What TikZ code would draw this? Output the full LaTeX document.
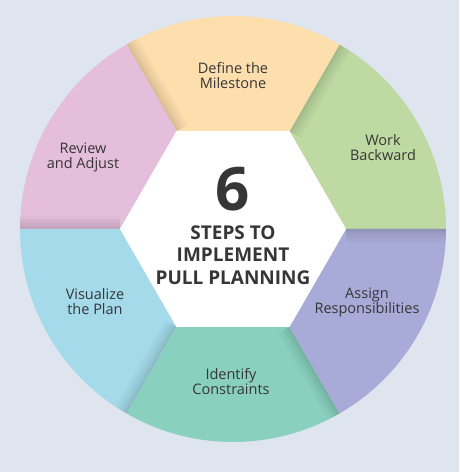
\documentclass[tikz,border=0pt]{standalone}
\usepackage{fontspec}
\setmainfont{Open Sans}
\definecolor{bg}{HTML}{DEE5EF}
\definecolor{cyellow}{HTML}{FDDEAD}
\definecolor{cgreen}{HTML}{BEDAA2}
\definecolor{cpurple}{HTML}{A8AAD8}
\definecolor{cteal}{HTML}{8AD0BE}
\definecolor{cblue}{HTML}{A4DAEA}
\definecolor{cpink}{HTML}{E4BEDA}
\definecolor{ink}{HTML}{363636}
\tikzset{
  lbl/.style={text=ink, align=center, font=\fontsize{14.5}{15}\selectfont, inner sep=0pt},
  ctr/.style={text=ink, align=center, font=\fontsize{19}{22.5}\selectfont\bfseries, inner sep=0pt},
}
\begin{document}
\begin{tikzpicture}[x=1pt,y=1pt]
\useasboundingbox (0,0) rectangle (459,472);
\fill[bg] (0,0) rectangle (459,472);
\def\R{213}
\def\H{113}
\begin{scope}[shift={(233,243)}]
  \foreach \a/\c in {0/cgreen, 60/cyellow, 120/cpink, 180/cblue, 240/cteal, 300/cpurple} {
    \fill[\c] (\a:\H) -- (\a:\R) arc[start angle=\a, delta angle=60, radius=\R] -- ({\a+60}:\H) -- cycle;
    \begin{scope}
      \clip (\a:\H) -- (\a:\R) arc[start angle=\a, delta angle=60, radius=\R] -- ({\a+60}:\H) -- cycle;
      \foreach \w in {26,20,15,11,7,4} {
        \draw[line width=\w, black, opacity=0.022] ({\a+60}:\H) -- ({\a+60}:\R+20);
      }
    \end{scope}
  }
  \fill[white] (0:\H) -- (60:\H) -- (120:\H) -- (180:\H) -- (240:\H) -- (300:\H) -- cycle;
\end{scope}
\node[lbl] (define) at (233,396) {Define the\\Milestone};
\node[lbl] (work) at (383,324) {Work\\Backward};
\node[lbl] (review) at (83,315) {Review\\and Adjust};
\node[lbl] (visual) at (95,170) {Visualize\\the Plan};
\node[lbl] (assign) at (367,170) {Assign\\Responsibilities};
\node[lbl] (ident) at (231,90) {Identify\\Constraints};
\node[text=ink, font=\fontsize{60}{60}\selectfont\bfseries, inner sep=0pt] (six) at (233,283) {6};
\node[ctr] (steps) at (233,217) {STEPS TO\\IMPLEMENT\\PULL PLANNING};
\end{tikzpicture}
\end{document}
